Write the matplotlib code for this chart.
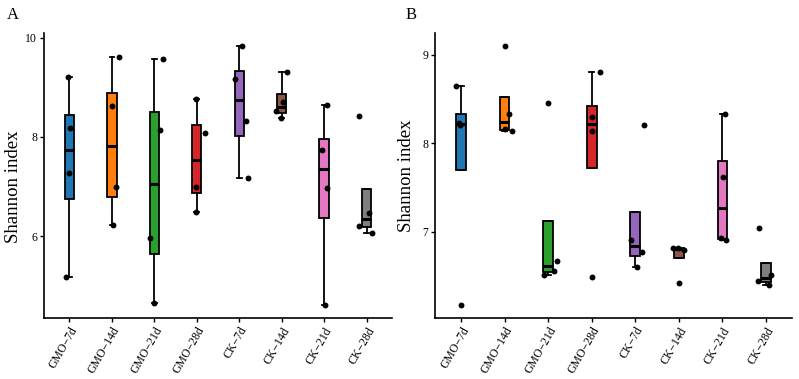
import matplotlib
matplotlib.use("Agg")
import matplotlib.pyplot as plt
import numpy as np

plt.rcParams['font.family'] = ['Liberation Serif', 'DejaVu Serif']

groups = ["GMO\u22127d", "GMO\u221214d", "GMO\u221221d", "GMO\u221228d",
          "CK\u22127d", "CK\u221214d", "CK\u221221d", "CK\u221228d"]
colors = ["#1f77b4", "#ff7f0e", "#2ca02c", "#d62728",
          "#9467bd", "#8c564b", "#e377c2", "#7f7f7f"]

# Panel A values (Shannon index)
a_gmo7 = [9.20, 8.18, 7.27, 5.18]
a_gmo14 = [6.22, 6.98, 8.63, 9.60]
a_gmo21 = [4.65, 5.96, 8.14, 9.56]
a_gmo28 = [8.77, 8.07, 6.99, 6.48]
a_ck7 = [9.83, 9.17, 8.31, 7.16]
a_ck14 = [9.31, 8.70, 8.51, 8.37]
a_ck21 = [8.64, 7.74, 6.96, 4.61]
a_ck28 = [8.41, 6.21, 6.46, 6.07]

# Panel B values (Shannon index)
b_gmo7 = [8.65, 8.21, 8.225, 6.17]
b_gmo14 = [9.10, 8.33, 8.16, 8.14]
b_gmo21 = [8.46, 6.67, 6.51, 6.55]
b_gmo28 = [8.80, 8.30, 8.135, 6.49]
b_ck7 = [8.21, 6.90, 6.77, 6.605]
b_ck14 = [6.81, 6.81, 6.79, 6.42]
b_ck21 = [8.335, 7.62, 6.925, 6.90]
b_ck28 = [7.04, 6.444, 6.51, 6.40]

data_a = [a_gmo7, a_gmo14, a_gmo21, a_gmo28, a_ck7, a_ck14, a_ck21, a_ck28]
data_b = [b_gmo7, b_gmo14, b_gmo21, b_gmo28, b_ck7, b_ck14, b_ck21, b_ck28]

# horizontal jitter offsets of the points (style)
jit_a = [[-0.03, 0.01, -0.02, -0.09], [0.02, 0.10, 0.0, 0.17],
         [0.0, -0.11, 0.13, 0.20], [-0.02, 0.20, -0.02, -0.02],
         [0.06, -0.09, 0.16, 0.20], [0.12, 0.02, -0.14, -0.02],
         [0.08, -0.04, 0.06, 0.01], [-0.17, -0.17, 0.06, 0.12]]
jit_b = [[-0.12, -0.02, -0.04, 0.0], [0.0, 0.11, 0.0, 0.18],
         [0.0, 0.21, -0.10, 0.13], [0.19, 0.0, 0.0, 0.0],
         [0.21, -0.10, 0.16, 0.05], [-0.13, -0.02, 0.13, 0.01],
         [0.05, 0.02, -0.04, 0.09], [-0.15, -0.17, 0.12, 0.08]]

a_ticks = [6, 8, 10]
b_ticks = [7, 8, 9]

fig = plt.figure(figsize=(7.99, 3.79), dpi=100)
H = 379.0
W = 799.0


def panel(rect, data, jit, yticks, label, lx, ylab_xy):
    ax = fig.add_axes(rect)
    pos = np.arange(1, len(data) + 1)
    bp = ax.boxplot(data, positions=pos, widths=0.22, patch_artist=True,
                    showfliers=False, whis=1.5, capwidths=0.11,
                    medianprops=dict(color='black', linewidth=2.2),
                    boxprops=dict(edgecolor='black', linewidth=1.3),
                    whiskerprops=dict(color='black', linewidth=1.3),
                    capprops=dict(color='black', linewidth=1.3),
                    zorder=2)
    for patch, c in zip(bp['boxes'], colors):
        patch.set_facecolor(c)
    for i, (vals, offs) in enumerate(zip(data, jit)):
        ax.scatter(pos[i] + np.array(offs), vals, s=18, color='black',
                   zorder=3, linewidths=0)
    allv = np.concatenate([np.array(d) for d in data])
    lo, hi = allv.min(), allv.max()
    pad = 0.05 * (hi - lo)
    ax.set_ylim(lo - pad, hi + pad)
    ax.set_xlim(0.4, len(data) + 0.6)
    ax.set_yticks(yticks)
    ax.set_yticklabels([str(t) for t in yticks], fontsize=8.5)
    ax.set_xticks(pos)
    ax.set_xticklabels(groups, fontsize=8.5, rotation=60,
                       ha='right', va='top', rotation_mode='anchor')
    for s in ['top', 'right']:
        ax.spines[s].set_visible(False)
    for s in ['left', 'bottom']:
        ax.spines[s].set_linewidth(1.2)
    ax.tick_params(axis='both', length=3, width=1.0, pad=2, colors='black')
    ax.set_ylabel("Shannon index", fontsize=13.5)
    ax.yaxis.set_label_coords(*ylab_xy)
    fig.text(lx / W, 1 - 19 / H, label, fontsize=12, ha='left', va='baseline')
    return ax


bottom = (H - 318) / H
height = (318 - 33) / H
panel([44 / W, bottom, 348 / W, height], data_a, jit_a, a_ticks, "A", 7,
      (-0.063, 0.46))
panel([435 / W, bottom, 357 / W, height], data_b, jit_b, b_ticks, "B", 406,
      (-0.056, 0.5))

fig.savefig("out.png", dpi=100)
